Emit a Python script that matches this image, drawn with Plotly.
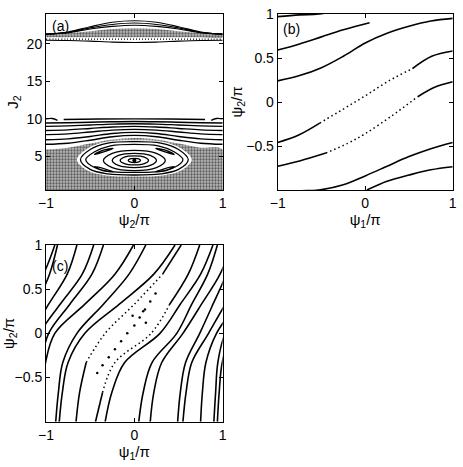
import plotly.graph_objects as go

FONT = "Liberation Sans, Arial, sans-serif"

# ---------------- panel (a): J2 against psi2/pi ----------------
a_x = [-1, -0.75, -0.5, -0.25, 0, 0.25, 0.5, 0.75, 1]

# rotational curves above the chaotic sea
a_rot = [
    [9.45, 9.48, 9.55, 9.62, 9.65, 9.62, 9.55, 9.48, 9.45],
    [9.00, 9.06, 9.18, 9.30, 9.35, 9.30, 9.18, 9.06, 9.00],
    [8.45, 8.53, 8.72, 8.91, 9.00, 8.91, 8.72, 8.53, 8.45],
    [7.90, 8.00, 8.25, 8.50, 8.60, 8.50, 8.25, 8.00, 7.90],
    [7.20, 7.33, 7.65, 8.05, 8.20, 8.05, 7.65, 7.33, 7.20],
    [6.60, 6.75, 7.15, 7.62, 7.80, 7.62, 7.15, 6.75, 6.60],
]
# broken curve near J2 = 10
a_j10_x = [-0.8, -0.4, 0, 0.4, 0.8]
a_j10_y = [9.92, 9.98, 10.0, 9.98, 9.92]
a_j10_left_x = [-1, -0.93, -0.87]
a_j10_left_y = [10.0, 10.05, 9.8]
a_j10_right_x = [0.87, 0.93, 1]
a_j10_right_y = [9.8, 10.05, 10.0]

# chaotic sea (upper edge) and the island that sits inside it
a_sea_top = [5.9, 6.15, 6.7, 7.25, 7.45, 7.25, 6.7, 6.15, 5.9]
a_sea_floor = 0.5
a_hole_x = [-0.65, -0.53, -0.32, 0, 0.32, 0.53, 0.65, 0.53, 0.32, 0, -0.32, -0.53, -0.65]
a_hole_y = [4.55, 6.05, 6.95, 7.15, 6.95, 6.05, 4.55, 3.1, 2.45, 2.3, 2.45, 3.1, 4.55]

a_island = [
    ([-0.61, -0.5, -0.3, 0, 0.3, 0.5, 0.61, 0.5, 0.3, 0, -0.3, -0.5, -0.61],
     [4.55, 5.9, 6.75, 6.95, 6.75, 5.9, 4.55, 3.25, 2.65, 2.5, 2.65, 3.25, 4.55]),
    ([-0.55, -0.45, -0.27, 0, 0.27, 0.45, 0.55, 0.45, 0.27, 0, -0.27, -0.45, -0.55],
     [4.55, 5.6, 6.4, 6.6, 6.4, 5.6, 4.55, 3.5, 2.95, 2.85, 2.95, 3.5, 4.55]),
    ([0.35, 0.25, 0, -0.25, -0.35, -0.25, 0, 0.25, 0.35],
     [4.45, 5.4, 5.8, 5.4, 4.45, 3.5, 3.1, 3.5, 4.45]),
    ([0.25, 0.18, 0, -0.18, -0.25, -0.18, 0, 0.18, 0.25],
     [4.45, 5.12, 5.4, 5.12, 4.45, 3.78, 3.5, 3.78, 4.45]),
    ([0.16, 0.113, 0, -0.113, -0.16, -0.113, 0, 0.113, 0.16],
     [4.45, 4.88, 5.05, 4.88, 4.45, 4.02, 3.85, 4.02, 4.45]),
    ([0.07, 0.05, 0, -0.05, -0.07, -0.05, 0, 0.05, 0.07],
     [4.45, 4.65, 4.73, 4.65, 4.45, 4.25, 4.17, 4.25, 4.45]),
]
# four small satellite islands of the chain
a_small = [
    ([-0.45, -0.36, -0.24, -0.33, -0.45], [5.25, 5.8, 6.05, 5.65, 5.25]),
    ([0.45, 0.36, 0.24, 0.33, 0.45], [5.25, 5.8, 6.05, 5.65, 5.25]),
    ([-0.45, -0.36, -0.24, -0.33, -0.45], [3.65, 3.1, 2.95, 3.3, 3.65]),
    ([0.45, 0.36, 0.24, 0.33, 0.45], [3.65, 3.1, 2.95, 3.3, 3.65]),
]
a_centre = (0, 4.45)

# upper chaotic band and the arcs above it
a_band_lo = [20.9, 20.9, 20.9, 20.9, 20.9, 20.9, 20.9, 20.9, 20.9]
a_band_hi = [21.3, 21.45, 21.7, 22.0, 22.1, 22.0, 21.7, 21.45, 21.3]
a_arcs = [
    [21.3, 21.6, 22.3, 22.9, 23.1, 22.9, 22.3, 21.6, 21.3],
    [21.3, 21.55, 22.15, 22.6, 22.8, 22.6, 22.15, 21.55, 21.3],
    [21.3, 21.5, 22.0, 22.35, 22.5, 22.35, 22.0, 21.5, 21.3],
]
a_dotted_line = [20.65, 20.65, 20.65, 20.65, 20.65, 20.65, 20.65, 20.65, 20.65]
a_low_curve = [20.5, 20.47, 20.38, 20.25, 20.2, 20.25, 20.38, 20.47, 20.5]

# ---------------- panel (b): psi2/pi against psi1/pi ----------------
b_curves = [  # (x, y, dotted index range or None)
    ([-1, -0.75, -0.5, -0.25, 0, 0.25, 0.5, 0.75, 1],
     [0.24, 0.30, 0.39, 0.52, 0.67, 0.78, 0.86, 0.92, 0.95], None),
    ([-1, -0.75, -0.53, -0.25, 0, 0.25, 0.5, 0.75, 1],
     [0.97, 0.99, 1.0, 1.06, 1.16, 1.27, 1.38, 1.47, 1.54], None),
    ([-1, -0.76, -0.52, -0.25, 0, 0.27, 0.54, 0.76, 1],
     [-0.46, -0.375, -0.24, -0.08, 0.07, 0.24, 0.38, 0.52, 0.58], (2, 6)),
    ([-1, -0.75, -0.45, -0.2, 0, 0.3, 0.6, 0.8, 1],
     [-0.73, -0.67, -0.58, -0.47, -0.36, -0.16, 0.06, 0.17, 0.23], (2, 6)),
    ([-1, -0.75, -0.5, -0.25, 0.05],
     [0.59, 0.66, 0.74, 0.82, 0.90], None),
    ([0.02, 0.25, 0.5, 0.75, 1],
     [-1, -0.9, -0.83, -0.77, -0.735], None),
]

# ---------------- panel (c): psi2/pi against psi1/pi ----------------
c_y = [-1, -0.67, -0.33, 0, 0.33, 0.67, 1]
c_curves = [  # (x at the c_y levels, dotted index range or None)
    ([-0.89, -0.86, -0.81, -0.65, -0.35, -0.06, 0.13], None),
    ([-0.85, -0.815, -0.75, -0.56, -0.17, 0.22, 0.46], None),
    ([-0.66, -0.62, -0.545, -0.33, 0.0, 0.32, 0.53], (2, 5)),
    ([-0.44, -0.36, -0.22, 0.19, 0.40, 0.61, 0.74], (1, 4)),
    ([-0.33, -0.255, -0.11, 0.29, 0.52, 0.75, 0.89], None),
    ([0.05, 0.10, 0.20, 0.48, 0.65, 0.83, 0.94], None),
    ([0.18, 0.22, 0.31, 0.55, 0.76, 0.97, 1.10], None),
    ([0.49, 0.52, 0.58, 0.74, 0.89, 1.04, 1.13], None),
    ([0.55, 0.585, 0.65, 0.84, 1.03, 1.24, 1.35], None),
    ([0.75, 0.77, 0.81, 0.93, 1.16, 1.41, 1.54], None),
    ([0.90, 0.92, 0.945, 1.03, 1.27, 1.52, 1.65], None),
    ([0.94, 0.96, 0.995, 1.10, 1.44, 1.78, 1.99], None),
]
# island chain between the two dotted curves
c_dots_x = [-0.42, -0.36, -0.29, -0.22, -0.15, -0.08, 0.0, 0.06, 0.12, 0.18, 0.24, 0.1, 0.13, -0.02]
c_dots_y = [-0.45, -0.36, -0.27, -0.18, -0.09, 0.0, 0.09, 0.18, 0.27, 0.36, 0.45, 0.25, 0.12, 0.2]

ticks_pm1 = [-1, 0, 1]
ticks_psi = [-0.5, 0, 0.5, 1]
ticks_J = [5, 10, 15, 20]

DOTS = "1.5px,3px"


def line(x, y, xa, ya, dash=None, w=1.6, shape="spline"):
    return go.Scatter(x=x, y=y, xaxis=xa, yaxis=ya, mode="lines",
                      line=dict(color="black", width=w, shape=shape, dash=dash),
                      hoverinfo="skip", showlegend=False)


def pieces(xs, ys, dot, xa, ya):
    if dot is None:
        return [line(xs, ys, xa, ya)]
    i, j = dot
    return [line(xs[:i + 1], ys[:i + 1], xa, ya),
            line(xs[i:j + 1], ys[i:j + 1], xa, ya, dash=DOTS, w=1.5),
            line(xs[j:], ys[j:], xa, ya)]


speckle = dict(shape=".", size=3, solidity=0.45, fgcolor="black", bgcolor="#b8b8b8")

fig = go.Figure()

# (a) chaotic sea as a speckled fill, island cleared in white
fig.add_trace(go.Scatter(
    x=a_x + [1, -1], y=a_sea_top + [a_sea_floor, a_sea_floor],
    xaxis="x", yaxis="y", mode="lines", fill="toself", line=dict(width=0, shape="spline"),
    fillcolor="rgba(0,0,0,0)", fillpattern=speckle,
    hoverinfo="skip", showlegend=False))
fig.add_trace(go.Scatter(
    x=a_hole_x, y=a_hole_y, xaxis="x", yaxis="y", mode="lines", fill="toself",
    fillcolor="white", line=dict(width=0, shape="spline"),
    hoverinfo="skip", showlegend=False))
fig.add_trace(go.Scatter(
    x=a_x + a_x[::-1], y=a_band_hi + a_band_lo[::-1],
    xaxis="x", yaxis="y", mode="lines", fill="toself", line=dict(width=0, shape="spline"),
    fillcolor="rgba(0,0,0,0)", fillpattern=speckle,
    hoverinfo="skip", showlegend=False))
for ys in a_rot:
    fig.add_trace(line(a_x, ys, "x", "y", w=1.4))
fig.add_trace(line(a_j10_x, a_j10_y, "x", "y", w=1.4))
fig.add_trace(line(a_j10_left_x, a_j10_left_y, "x", "y", w=1.4))
fig.add_trace(line(a_j10_right_x, a_j10_right_y, "x", "y", w=1.4))
for xs, ys in a_island + a_small:
    fig.add_trace(line(xs, ys, "x", "y", w=1.3))
fig.add_trace(go.Scatter(x=[a_centre[0]], y=[a_centre[1]], xaxis="x", yaxis="y",
                         mode="markers", marker=dict(color="black", size=4),
                         hoverinfo="skip", showlegend=False))
for ys in a_arcs:
    fig.add_trace(line(a_x, ys, "x", "y", w=1.2))
fig.add_trace(line(a_x, a_dotted_line, "x", "y", dash="1px,2px", w=1.2))
fig.add_trace(line(a_x, a_low_curve, "x", "y", w=1.1))

# (b) curves wrap around the torus in psi2
for xs, ys, dot in b_curves:
    for shift in (0, -2):
        for tr in pieces(xs, [v + shift for v in ys], dot, "x2", "y2"):
            fig.add_trace(tr)

# (c) curves wrap around the torus in psi1
for xs, dot in c_curves:
    for shift in (0, -2):
        for tr in pieces([v + shift for v in xs], c_y, dot, "x3", "y3"):
            fig.add_trace(tr)
fig.add_trace(go.Scatter(x=c_dots_x, y=c_dots_y, xaxis="x3", yaxis="y3", mode="markers",
                         marker=dict(color="black", size=2.5),
                         hoverinfo="skip", showlegend=False))

W, H = 463, 467
boxes = {  # pixel boxes of the three panels: left, right, top, bottom
    "a": (46, 222.7, 14, 190),
    "b": (277.7, 452.7, 14, 190),
    "c": (46, 222.7, 245, 421.7),
}


def dom(key):
    l, r, t, b = boxes[key]
    return [l / W, r / W], [1 - b / H, 1 - t / H]


axis_common = dict(showline=True, linecolor="black", linewidth=1, mirror="ticks",
                   ticks="inside", ticklen=4, tickcolor="black", showgrid=False,
                   zeroline=False, automargin=False,
                   tickfont=dict(family=FONT, size=14, color="black"),
                   title_font=dict(family=FONT, size=15, color="black"))

ax_dom, ay_dom = dom("a")
bx_dom, by_dom = dom("b")
cx_dom, cy_dom = dom("c")

fig.update_layout(
    width=W, height=H, margin=dict(l=0, r=0, t=0, b=0),
    paper_bgcolor="white", plot_bgcolor="white",
    xaxis=dict(domain=ax_dom, anchor="y", range=[-1, 1], tickvals=ticks_pm1,
               title=dict(text="ψ<sub>2</sub>/π", standoff=0), **axis_common),
    yaxis=dict(domain=ay_dom, anchor="x", range=[0.5, 24], tickvals=ticks_J,
               title=dict(text="J<sub>2</sub>", standoff=4), **axis_common),
    xaxis2=dict(domain=bx_dom, anchor="y2", range=[-1, 1], tickvals=ticks_pm1,
                title=dict(text="ψ<sub>1</sub>/π", standoff=0), **axis_common),
    yaxis2=dict(domain=by_dom, anchor="x2", range=[-1, 1], tickvals=ticks_psi,
                title=dict(text="ψ<sub>2</sub>/π", standoff=0), **axis_common),
    xaxis3=dict(domain=cx_dom, anchor="y3", range=[-1, 1], tickvals=ticks_pm1,
                title=dict(text="ψ<sub>1</sub>/π", standoff=0), **axis_common),
    yaxis3=dict(domain=cy_dom, anchor="x3", range=[-1, 1], tickvals=ticks_psi,
                title=dict(text="ψ<sub>2</sub>/π", standoff=0), **axis_common),
    annotations=[
        dict(text="(a)", xref="x domain", yref="y domain", x=0.02, y=0.99,
             xanchor="left", yanchor="top", showarrow=False,
             font=dict(family=FONT, size=14, color="black")),
        dict(text="(b)", xref="x2 domain", yref="y2 domain", x=0.02, y=0.97,
             xanchor="left", yanchor="top", showarrow=False,
             font=dict(family=FONT, size=14, color="black")),
        dict(text="(c)", xref="x3 domain", yref="y3 domain", x=0.02, y=0.94,
             xanchor="left", yanchor="top", showarrow=False,
             font=dict(family=FONT, size=14, color="black")),
    ],
)

fig.write_html("out.html", config={"displayModeBar": False},
               post_script="document.body.style.margin='0';")
